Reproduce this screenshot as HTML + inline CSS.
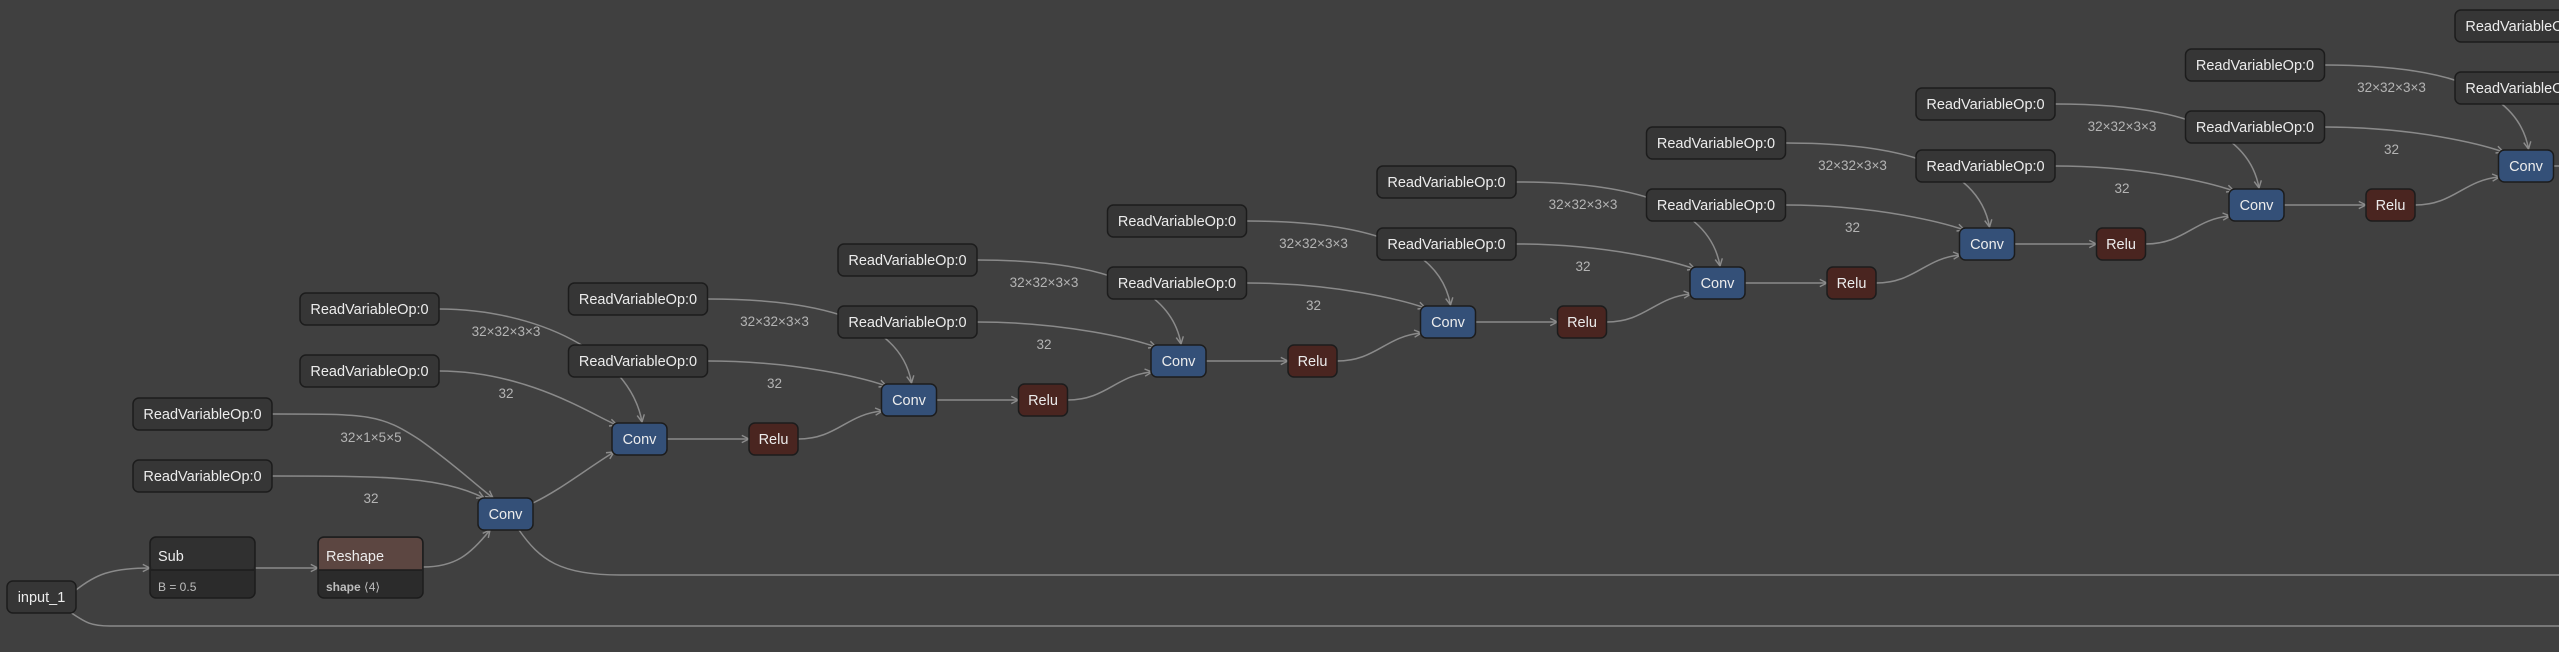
<!DOCTYPE html>
<html><head><meta charset="utf-8"><style>
html,body{margin:0;padding:0;background:#404040;width:2559px;height:652px;overflow:hidden}
svg{display:block}
text{font-family:"Liberation Sans",sans-serif}
</style></head><body>
<svg id="g" width="2559" height="652" viewBox="0 0 2559 652" xmlns="http://www.w3.org/2000/svg">
<defs><marker id="a" viewBox="0 0 10 10" refX="9" refY="5" markerWidth="9" markerHeight="9" markerUnits="userSpaceOnUse" orient="auto"><path d="M1,1 L9,5 L1,9" fill="none" stroke="#8c8c8c" stroke-width="1.6"/></marker></defs>
<g id="edges" fill="none" stroke="#8a8a8a" stroke-width="1.5"></g>
<g id="labels" fill="#b4b4b4" font-size="13.5" text-anchor="middle"></g>
<g id="nodes"></g>
</svg>
<script>
var E=document.getElementById('edges'),L=document.getElementById('labels'),N=document.getElementById('nodes');
var NS='http://www.w3.org/2000/svg';
function el(p,t,a,txt){var e=document.createElementNS(NS,t);for(var k in a)e.setAttribute(k,a[k]);if(txt)e.textContent=txt;p.appendChild(e);return e;}
function edge(d,arrow){var a={d:d};if(arrow!==false)a['marker-end']='url(#a)';el(E,'path',a);}
function lab(x,y,t){el(L,'text',{x:x,y:y},t);}
function box(x,y,w,h,fill,t){el(N,'rect',{x:x,y:y,width:w,height:h,rx:6,fill:fill,stroke:'#1c1c1c','stroke-width':1.5});
 el(N,'text',{x:x+w/2,y:y+h/2+5,fill:'#ececec','font-size':14.5,'text-anchor':'middle'},t);}
var RV='ReadVariableOp:0';
function rvo(x,y){box(x,y,139,32,'#363636',RV);}
// stages
for(var k=2;k<=10;k++){
 var cx=612+(k-2)*269.5, cy=423-(k-2)*39, X, Y;
 if(k==2){X=300;Y=293;}else{X=cx-313;Y=cy-101;}
 // weight edge
 edge('M'+(X+139)+','+(Y+16)+' C'+(X+235)+','+(Y+16)+' '+(cx+18)+','+(cy-70)+' '+(cx+30)+','+(cy-1));
 edge('M'+(X+139)+','+(Y+78)+' C'+(X+230)+','+(Y+78)+' '+(cx-15)+','+(cy-5)+' '+(cx+5)+','+(cy+2));
 lab(X+206,Y+43,'32×32×3×3');lab(X+206,Y+105,'32');
 rvo(X,Y);rvo(X,Y+62);
 if(k<=9){
  edge('M'+(cx+55)+','+(cy+16)+' L'+(cx+137)+','+(cy+16));
  var nx=cx+269.5, ny=cy-39;
  edge('M'+(cx+186)+','+(cy+16)+' C'+(cx+225)+','+(cy+16)+' '+(nx-35)+','+(ny+30)+' '+(nx+1)+','+(ny+27));
  box(cx,cy,55,32,'#345078','Conv');
  box(cx+137,cy,49,32,'#4a2520','Relu');
 }
}
// Conv1 area
edge('M76,590 C95,575 110,568 150,568');
edge('M255,568 L318,568');
edge('M423,567 C455,567 470,555 490,530');
edge('M272,414 C370,414 380,414 420,440 C455,465 470,480 493,498');
edge('M272,476 C380,476 440,476 484,498');
edge('M533,503 C560,490 585,470 614,452');
edge('M519,530 C540,560 560,575 620,575 L2559,575',false);
edge('M70,612 C85,622 90,626 110,626 L2559,626',false);
lab(371,442,'32×1×5×5');lab(371,503,'32');
rvo(133,398);rvo(133,460);
box(478,498,55,32,'#345078','Conv');
// input_1
box(7,581,69,32,'#363636','input_1');
// Sub
el(N,'rect',{x:150,y:537,width:105,height:61,rx:6,fill:'#2b2b2b',stroke:'#1c1c1c','stroke-width':1.5});
el(N,'rect',{x:151,y:538,width:103,height:32,rx:5,fill:'#303030'});
el(N,'line',{x1:151,y1:570,x2:254,y2:570,stroke:'#1c1c1c','stroke-width':1.5});
el(N,'text',{x:158,y:561,fill:'#ececec','font-size':14.5},'Sub');
el(N,'text',{x:158,y:591,fill:'#bdbdbd','font-size':12},'B = 0.5');
// Reshape
el(N,'rect',{x:318,y:537,width:105,height:61,rx:6,fill:'#2b2b2b',stroke:'#1c1c1c','stroke-width':1.5});
el(N,'path',{d:'M319,570 L319,543 Q319,538 324,538 L417,538 Q422,538 422,543 L422,570 Z',fill:'#5c4641'});
el(N,'line',{x1:319,y1:570,x2:422,y2:570,stroke:'#1c1c1c','stroke-width':1.5});
el(N,'text',{x:326,y:561,fill:'#ececec','font-size':14.5},'Reshape');
var t=el(N,'text',{x:326,y:591,fill:'#bdbdbd','font-size':12});
el(t,'tspan',{'font-weight':'bold'},'shape');el(t,'tspan',{},' ⟨4⟩');
</script>
</body></html>
